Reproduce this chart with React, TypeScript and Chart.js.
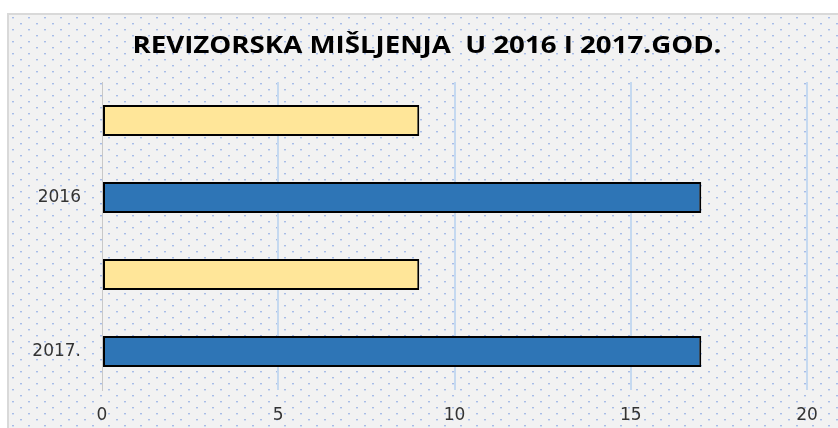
import React, { useEffect, useRef } from "react";
import { Chart, registerables } from "chart.js";

Chart.register(...registerables);

const categories = ["", "2016", "", "2017."];
const values = [9, 17, 9, 17];
const barColors = ["#ffe699", "#2e75b6", "#ffe699", "#2e75b6"];
const titleText = "REVIZORSKA MIŠLJENJA  U 2016 I 2017.GOD.";
const xTicks = [0, 5, 10, 15, 20];

function makePattern(): CanvasPattern | string {
  const c = document.createElement("canvas");
  c.width = 16;
  c.height = 12;
  const g = c.getContext("2d");
  if (!g) return "#f2f2f2";
  g.fillStyle = "#f2f2f2";
  g.fillRect(0, 0, 16, 12);
  g.fillStyle = "#a8bce6";
  g.fillRect(3, 2, 2, 1);
  g.fillRect(11, 8, 2, 1);
  g.fillStyle = "#d2ddf2";
  g.fillRect(3, 3, 2, 1);
  g.fillRect(11, 9, 2, 1);
  const p = g.createPattern(c, "repeat");
  return p || "#f2f2f2";
}

const bgPlugin = {
  id: "bgPattern",
  beforeDraw(chart: any) {
    const ctx = chart.ctx;
    ctx.save();
    ctx.fillStyle = makePattern();
    ctx.fillRect(0, 0, chart.width, chart.height);
    ctx.restore();
  },
  afterDraw(chart: any) {
    const ctx = chart.ctx;
    ctx.save();
    ctx.fillStyle = "#000000";
    ctx.font = "bold 24px 'Open Sans', sans-serif";
    ctx.textAlign = "center";
    ctx.textBaseline = "middle";
    const w = ctx.measureText(titleText).width;
    const sx = 589 / w;
    ctx.translate(418, 31);
    ctx.scale(sx, 1);
    ctx.fillText(titleText, 0, 0);
    ctx.restore();
  },
};

export default function App() {
  const ref = useRef<HTMLCanvasElement>(null);
  useEffect(() => {
    if (!ref.current) return;
    const chart = new Chart(ref.current, {
      type: "bar",
      data: {
        labels: categories,
        datasets: [
          {
            data: values,
            backgroundColor: barColors,
            borderColor: "#000000",
            borderWidth: 2,
            borderSkipped: false,
            categoryPercentage: 1,
            barPercentage: 0.4,
          },
        ],
      },
      options: {
        indexAxis: "y",
        animation: false,
        responsive: false,
        layout: { padding: { top: 67, right: 33, left: 0, bottom: 0 } },
        plugins: {
          legend: { display: false },
          title: { display: false },
          tooltip: { enabled: false },
        },
        scales: {
          x: {
            min: 0,
            max: 20,
            afterBuildTicks(scale: any) {
              scale.ticks = xTicks.map((v) => ({ value: v }));
            },
            afterFit(scale: any) {
              scale.height = 40;
            },
            grid: {
              color: (c: any) => (c.tick && c.tick.value === 0 ? "rgba(0,0,0,0)" : "#c5d9f0"),
              lineWidth: 2,
              drawTicks: false,
            },
            border: { display: false },
            ticks: {
              padding: 15,
              color: "#333333",
              font: { family: "'DejaVu Sans', sans-serif", size: 17 },
            },
          },
          y: {
            afterFit(scale: any) {
              scale.width = 93;
            },
            grid: { display: false, drawTicks: false },
            border: { display: true, color: "#c8c8c8", width: 1 },
            ticks: {
              padding: 21,
              color: "#333333",
              font: { family: "'DejaVu Sans', sans-serif", size: 17 },
            },
          },
        },
      },
      plugins: [bgPlugin],
    });
    return () => chart.destroy();
  }, []);
  return (
    <div
      style={{
        position: "fixed",
        left: 7,
        top: 13,
        width: 833,
        height: 417,
        borderLeft: "2px solid #d9d9d9",
        borderTop: "2px solid #d9d9d9",
      }}
    >
      <canvas ref={ref} width={831} height={415} style={{ display: "block" }} />
    </div>
  );
}
